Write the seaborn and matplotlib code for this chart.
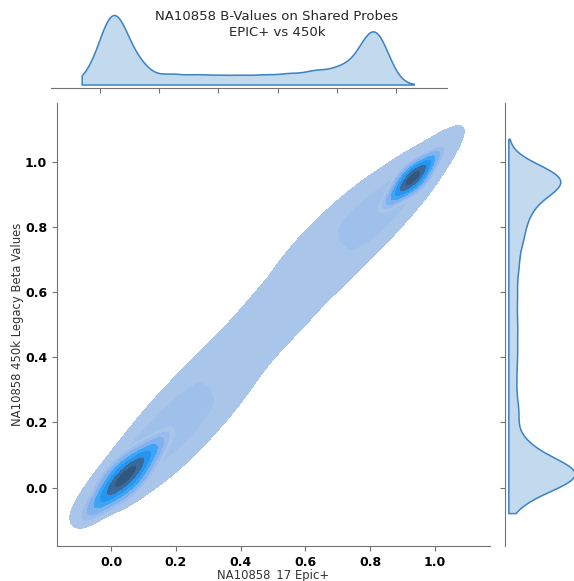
import numpy as np
import pandas as pd
import matplotlib
matplotlib.use("Agg")
import matplotlib.pyplot as plt
import seaborn as sns

# ---- data: representative probe clusters (beta values, EPIC+ vs legacy 450k) ----
# unmethylated peak
unmeth_epic   = [-0.039, 0.003, 0.045, 0.087, 0.129, 0.067, 0.023]
unmeth_legacy = [-0.049, -0.007, 0.035, 0.077, 0.119, 0.013, 0.057]
unmeth_weight = [4, 8, 12, 8, 4, 8, 8]

# methylated peak
meth_epic   = [0.872, 0.902, 0.932, 0.962, 0.992, 0.948, 0.916]
meth_legacy = [0.890, 0.920, 0.950, 0.980, 1.010, 0.934, 0.966]
meth_weight = [2, 4.5, 6.5, 4.5, 2, 4.5, 4.5]

# intermediate probes: path of the band, its half-width across, and its mass
band_center_epic   = [0.04, 0.12, 0.20, 0.28, 0.36, 0.44, 0.52, 0.60,
                      0.36, 0.44, 0.52, 0.60, 0.68, 0.76, 0.84, 0.90, 0.95]
band_center_legacy = [0.053, 0.11, 0.19, 0.275, 0.375, 0.46, 0.545, 0.637,
                      0.375, 0.46, 0.545, 0.637, 0.727, 0.80, 0.866, 0.92, 0.97]
band_halfwidth     = [0.022, 0.037, 0.052, 0.050, 0.042, 0.042, 0.045, 0.050,
                      0.042, 0.042, 0.045, 0.050, 0.052, 0.047, 0.037, 0.022, 0.012]
band_mass          = [5, 6, 6, 5.5, 2.5, 2.5, 2.5, 2.75,
                      2.5, 2.5, 2.5, 2.75, 6.5, 8.5, 10, 7, 2.5]
band_segment       = ["low"] * 8 + ["high"] * 9
band_rows          = [-1.0, -0.5, 0.0, 0.5, 1.0]
band_row_share     = [1.5, 2, 2, 2, 1.5]

title = "NA10858 B-Values on Shared Probes\nEPIC+ vs 450k"
xlabel = "NA10858_17 Epic+"
ylabel = "NA10858 450k Legacy Beta Values"
ticks = [0.0, 0.2, 0.4, 0.6, 0.8, 1.0]

records = []
for cx, cy, hw, m, seg in zip(band_center_epic, band_center_legacy, band_halfwidth,
                              band_mass, band_segment):
    for r, s in zip(band_rows, band_row_share):
        records.append({"epic": cx - r * hw, "legacy": cy + r * hw,
                        "w": m * s / sum(band_row_share), "group": "band_" + seg})
df = pd.concat([
    pd.DataFrame({"epic": unmeth_epic, "legacy": unmeth_legacy, "w": unmeth_weight,
                  "group": "unmethylated"}),
    pd.DataFrame(records),
    pd.DataFrame({"epic": meth_epic, "legacy": meth_legacy, "w": meth_weight,
                  "group": "methylated"}),
], ignore_index=True)

# ---- style ----
sns.set_style("ticks")
plt.rcParams["font.family"] = ["DejaVu Sans"]
spine_c = "0.45"
plt.rcParams.update({
    "axes.edgecolor": spine_c,
    "xtick.color": spine_c, "ytick.color": spine_c,
    "xtick.labelcolor": "black", "ytick.labelcolor": "black",
    "axes.labelcolor": "#333333",
})

band_color = "#a9c5ea"
ridge_color = "#a0c0ec"
peak_colors = ["#a9c5ea", "#9cbdec", "#80b2ef", "#3ea4f5", "#2595ef", "#3a6a9a", "#30587e"]
peak_levels = [0.06, 0.11, 0.19, 0.33, 0.5, 0.7, 0.9, 1.0]
marg_color = "#3a82c4"

W, H = 574, 581
fig = plt.figure(figsize=(W / 100, H / 100), dpi=100)
ax = fig.add_axes([57 / W, 35 / H, 433 / W, 443 / H])
ax_x = fig.add_axes([50.7 / W, (H - 88) / H, 396 / W, 76.5 / H])
ax_y = fig.add_axes([505 / W, 35 / H, 73 / W, 443 / H])

# joint density: intermediate band (outline, then its faint ridge), then the peaks
for lv, col in [([0.03, 1.0], band_color), ([0.6, 1.0], ridge_color)]:
    for g in ["band_low", "band_high"]:
        sns.kdeplot(data=df[df.group == g], x="epic", y="legacy", weights="w",
                    fill=True, color="C0", levels=lv, colors=[col],
                    bw_method=0.42, gridsize=250, ax=ax)
for g in ["unmethylated", "methylated"]:
    sns.kdeplot(data=df[df.group == g], x="epic", y="legacy", weights="w",
                fill=True, color="C0", levels=peak_levels,
                colors=peak_colors, bw_method=1.0, gridsize=250, ax=ax)

ax.set_xlim(-0.167, 1.17)
ax.set_ylim(-0.179, 1.18)
ax.set_xticks(ticks)
ax.set_yticks(ticks)
ax.set_xticklabels([f"{t:.1f}" for t in ticks], fontweight="bold", fontsize=9)
ax.set_yticklabels([f"{t:.1f}" for t in ticks], fontweight="bold", fontsize=9)
ax.set_xlabel(xlabel, fontsize=8.4, labelpad=0.5)
ax.set_ylabel(ylabel, fontsize=8.4, labelpad=1)
sns.despine(ax=ax)

# marginals
sns.kdeplot(data=df, x="epic", weights="w", fill=True, bw_method=0.09,
            clip=(-0.062, 1.06), color=marg_color, alpha=0.3, linewidth=1.1, ax=ax_x)
sns.kdeplot(data=df, y="legacy", weights="w", fill=True, bw_method=0.09,
            clip=(-0.078, 1.07), color=marg_color, alpha=0.3, linewidth=1.1, ax=ax_y)

ax_x.set_xlim(-0.1666, 1.171)
top = ax_x.get_ylim()[1] / 1.05
ax_x.set_ylim(-0.05 * top, 1.05 * top)
ax_x.set_xticks(ticks)
ax_x.set_xticklabels([])
ax_x.set_yticks([])
ax_x.set_xlabel("")
ax_x.set_ylabel("")
sns.despine(ax=ax_x, left=True)

ax_y.set_ylim(-0.179, 1.18)
right = ax_y.get_xlim()[1] / 1.05
ax_y.set_xlim(-0.05 * right, 1.05 * right)
ax_y.set_yticks(ticks)
ax_y.set_yticklabels([])
ax_y.set_xticks([])
ax_y.set_xlabel("")
ax_y.set_ylabel("")
sns.despine(ax=ax_y, bottom=True)

fig.text(277 / W, 1 - 24.5 / H, title, ha="center", va="center",
         fontsize=9.5, color="#262626", linespacing=1.3)

fig.savefig("out.png", dpi=100)
